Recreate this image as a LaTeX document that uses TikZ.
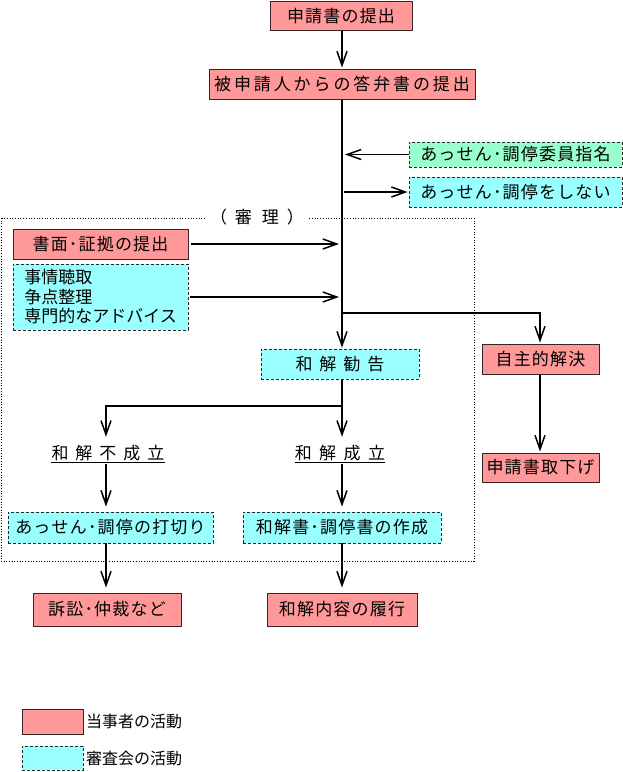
\documentclass[tikz,border=0pt]{standalone}
\usepackage{fontspec}
\setmainfont{Noto Sans CJK JP}
\usetikzlibrary{arrows.meta}
\definecolor{pinkc}{RGB}{255,153,153}
\definecolor{cyanc}{RGB}{153,255,255}
\definecolor{greenc}{RGB}{153,255,204}
\definecolor{edgec}{RGB}{60,35,35}
\begin{document}
\begin{tikzpicture}[x=1pt,y=-1pt,
  every node/.style={font=\fontsize{17}{20}\selectfont\addfontfeature{LetterSpace=7}, inner sep=0pt},
  plainfont/.style={font=\fontsize{17}{19.5}\selectfont},
  legendfont/.style={font=\fontsize{16}{19}\selectfont},
  widefont/.style={font=\fontsize{17}{20}\selectfont\addfontfeature{LetterSpace=17}},
  pinkbox/.style={draw=edgec, fill=pinkc, line width=1pt},
  cyanbox/.style={draw=black!85, fill=cyanc, dash pattern=on 3pt off 2pt, line width=0.8pt},
  greenbox/.style={cyanbox, fill=greenc},
  arr/.style={-{Straight Barb[length=14pt,width=10pt]}, line width=1.5pt, shorten >=1pt},
  plainline/.style={line width=1.5pt},
  framebox/.style={dotted, line width=0.7pt},
  ulabel/.style={minimum height=16pt}
]
\useasboundingbox (0,0) rectangle (623,772);

% main column coordinates
\coordinate (mx) at (342,0);
\coordinate (lx) at (106,0);
\coordinate (rx) at (540,0);

% review frame
\draw[framebox] (1,218) rectangle (474,561);
\node[fill=white, inner xsep=4pt] (shinri) at (257,217) {（\kern8pt 審\kern10pt 理\kern8pt ）};

% nodes
\node[pinkbox, minimum width=142pt, minimum height=29pt] (n1) at (341,16) {申請書の提出};
\node[pinkbox, widefont, minimum width=266pt, minimum height=30pt] (n2) at (342,84) {被申請人からの答弁書の提出};
\node[greenbox, minimum width=213pt, minimum height=25pt] (g1) at (515.5,154.5) {あっせん･調停委員指名};
\node[cyanbox, minimum width=213pt, minimum height=30pt] (c1) at (515.5,192) {あっせん･調停をしない};
\node[pinkbox, minimum width=175pt, minimum height=30pt] (p3) at (100.5,244) {書面･証拠の提出};
\node[cyanbox, plainfont, minimum width=175pt, minimum height=66pt, align=left] (c2) at (100.5,297) {事情聴取\\争点整理\\専門的なアドバイス};
\node[pinkbox, minimum width=117pt, minimum height=30pt] (p4) at (540.5,359) {自主的解決};
\node[pinkbox, minimum width=117pt, minimum height=29pt] (p5) at (540.5,467.5) {申請書取下げ};
\node[cyanbox, minimum width=158pt, minimum height=30pt] (c3) at (340,364) {和\kern7pt 解\kern7pt 勧\kern7pt 告};
\node[ulabel] (t1) at (108,453) {和\kern7pt 解\kern7pt 不\kern7pt 成\kern7pt 立};
\node[ulabel] (t2) at (340,453) {和\kern7.5pt 解\kern7.5pt 成\kern7.5pt 立};
\node[cyanbox, minimum width=205pt, minimum height=31pt] (c4) at (110.5,527.5) {あっせん･調停の打切り};
\node[cyanbox, minimum width=198pt, minimum height=31pt] (c5) at (342,527.5) {和解書･調停書の作成};
\node[pinkbox, minimum width=148pt, minimum height=33pt] (p6) at (107,609.5) {訴訟･仲裁など};
\node[pinkbox, minimum width=150pt, minimum height=33pt] (p7) at (342,609.5) {和解内容の履行};

% legend
\node[pinkbox, minimum width=61pt, minimum height=25pt] (lp) at (52.5,721.5) {};
\node[cyanbox, minimum width=61pt, minimum height=24pt] (lc) at (52.5,758) {};
\node[legendfont, anchor=west] (lpt) at (86,721) {当事者の活動};
\node[legendfont, anchor=west] (lct) at (86,758) {審査会の活動};

% underlines
\draw[line width=1pt] ([yshift=-1pt]t1.south west) -- ([yshift=-1pt]t1.south east);
\draw[line width=1pt] ([yshift=-1pt]t2.south west) -- ([yshift=-1pt]t2.south east);

% connectors
\draw[arr] (n1.south -| mx) -- (n2.north -| mx);
\draw[arr] (n2.south -| mx) -- (c3.north -| mx);
\draw[arr] (g1.west) -- ([xshift=2pt]g1.west -| mx);
\draw[arr] ([xshift=2pt]c1.west -| mx) -- (c1.west);
\draw[arr] ([xshift=2pt]p3.east) -- ([xshift=-2pt]p3.east -| mx);
\draw[arr] ([xshift=2pt]c2.east) -- ([xshift=-2pt]c2.east -| mx);

\coordinate (b1) at (343,313);
\draw[arr] (b1) -- (b1 -| rx) -- (p4.north -| rx);
\draw[arr] (p4.south -| rx) -- (p5.north -| rx);

\coordinate (b2) at (342,406);
\draw[plainline] (c3.south -| mx) -- (b2);
\draw[arr] (b2) -- ([yshift=7pt]t2.north -| mx);
\draw[arr] (b2) -- (b2 -| lx) -- ([yshift=7pt]t1.north -| lx);

\draw[arr] ([yshift=-3pt]t1.south -| lx) -- ([yshift=4pt]c4.north -| lx);
\draw[arr] ([yshift=-3pt]t2.south -| mx) -- ([yshift=4pt]c5.north -| mx);
\draw[arr] (c4.south -| lx) -- ([yshift=4pt]p6.north -| lx);
\draw[arr] (c5.south -| mx) -- ([yshift=4pt]p7.north -| mx);
\end{tikzpicture}
\end{document}
